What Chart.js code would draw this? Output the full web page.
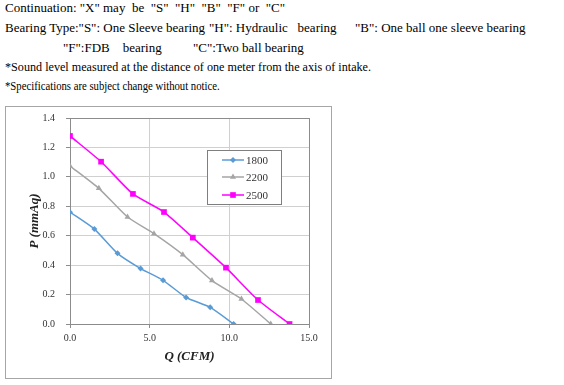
<!DOCTYPE html>
<html>
<head>
<meta charset="utf-8">
<script src="https://cdn.jsdelivr.net/npm/chart.js@4.4.1/dist/chart.umd.min.js"></script>
<style>
  body { margin: 0; background: #fff; width: 564px; height: 385px; position: relative; overflow: hidden; }
  .t { position: absolute; font-family: "Liberation Serif", serif; font-size: 13px; color: #000; white-space: pre; line-height: 16px; transform-origin: 0 0; }
  #box { position: absolute; left: 5px; top: 106px; width: 325px; height: 271px; border: 1px solid #a6a6a6; }
</style>
</head>
<body>
<div class="t" style="left:5px;top:0px">Continuation: "X" may  be  "S"  "H"  "B"  "F" or  "C"</div>
<div class="t" style="left:5px;top:20px">Bearing Type:"S": One Sleeve bearing</div>
<div class="t" style="left:209px;top:20px">"H": Hydraulic   bearing</div>
<div class="t" style="left:355px;top:20px">"B": One ball one sleeve bearing</div>
<div class="t" style="left:63px;top:40px">"F":FDB    bearing</div>
<div class="t" style="left:193px;top:40px">"C":Two ball bearing</div>
<div class="t" id="sound" style="left:5px;top:59px">*Sound level measured at the distance of one meter from the axis of intake.</div>
<div class="t" id="last" style="left:5px;top:78px">*Specifications are subject change without notice.</div>
<div id="box"><canvas id="fan_curve"></canvas></div>
<script>
// the two note lines are narrower in the scan
function squeeze(id, w){
  var el = document.getElementById(id);
  el.style.transform = "scaleX(" + (w / el.offsetWidth) + ")";
}
squeeze("sound", 366);
squeeze("last", 215);

var speeds = ["1800", "2200", "2500"];
var q1800 = [0, 1.53, 2.98, 4.43, 5.84, 7.29, 8.80, 10.27];
var p1800 = [0.76, 0.645, 0.48, 0.377, 0.297, 0.18, 0.113, 0];
var q2200 = [0, 1.81, 3.61, 5.27, 7.08, 8.91, 10.76, 12.6];
var p2200 = [1.074, 0.922, 0.727, 0.614, 0.471, 0.295, 0.17, 0];
var q2500 = [0, 1.95, 3.95, 5.9, 7.71, 9.79, 11.8, 13.78];
var p2500 = [1.278, 1.103, 0.884, 0.761, 0.587, 0.383, 0.163, 0];

function pairs(xs, ys){
  var out = [];
  for (var i = 0; i < xs.length; i++) out.push({x: xs[i], y: ys[i]});
  return out;
}

var styles = [
  {color: "#5b9bd5", point: "rectRot", radius: 3},
  {color: "#a5a5a5", point: "triangle", radius: 3.5},
  {color: "#ff00ff", point: "rect", radius: 4}
];
var series = [pairs(q1800, p1800), pairs(q2200, p2200), pairs(q2500, p2500)];

var datasets = [];
for (var i = 0; i < speeds.length; i++) {
  datasets.push({
    label: speeds[i],
    data: series[i],
    showLine: true,
    borderColor: styles[i].color,
    backgroundColor: styles[i].color,
    borderWidth: 1.5,
    pointStyle: styles[i].point,
    pointRadius: styles[i].radius,
    pointBorderWidth: 0,
    tension: 0.2
  });
}

var serif = "'Liberation Serif', serif";

// plot frame and the boxed legend
var framePlugin = {
  id: "frame",
  beforeDatasetsDraw: function(chart){
    var ctx = chart.ctx, a = chart.chartArea;
    ctx.save();
    ctx.strokeStyle = "#8c8c8c";
    ctx.lineWidth = 1;
    ctx.strokeRect(Math.round(a.left) + 0.5, Math.round(a.top) + 0.5, Math.round(a.right - a.left), Math.round(a.bottom - a.top));
    ctx.restore();
  },
  afterDatasetsDraw: function(chart){
    var ctx = chart.ctx, a = chart.chartArea;
    var lx = Math.round(a.left) + 137, ly = Math.round(a.top) + 32;
    ctx.save();
    ctx.fillStyle = "#fff";
    ctx.fillRect(lx, ly, 74, 54);
    ctx.strokeStyle = "#7f7f7f";
    ctx.lineWidth = 1;
    ctx.strokeRect(lx + 0.5, ly + 0.5, 74, 54);
    ctx.font = "11px " + serif;
    ctx.textBaseline = "middle";
    var rows = [10, 27, 45];
    chart.data.datasets.forEach(function(ds, i){
      var y = ly + rows[i];
      ctx.strokeStyle = ds.borderColor;
      ctx.lineWidth = 1.5;
      ctx.beginPath();
      ctx.moveTo(lx + 15, y);
      ctx.lineTo(lx + 37, y);
      ctx.stroke();
      ctx.fillStyle = ds.backgroundColor;
      Chart.helpers.drawPoint(ctx, {pointStyle: ds.pointStyle, radius: ds.pointRadius, rotation: 0, borderWidth: 0}, lx + 26, y);
      ctx.fillStyle = "#333";
      ctx.fillText(ds.label, lx + 39, y + 1);
    });
    ctx.restore();
  }
};

var chart = new Chart(document.getElementById("fan_curve"), {
  type: "scatter",
  data: { datasets: datasets },
  options: {
    responsive: true,
    maintainAspectRatio: false,
    animation: false,
    layout: { padding: { top: 11, right: 22, left: 17, bottom: 14 } },
    plugins: { legend: { display: false }, tooltip: { enabled: false } },
    scales: {
      x: {
        min: 0, max: 15,
        ticks: { stepSize: 5, color: "#333", font: { family: serif, size: 10 }, padding: 4,
          callback: function(v){ return v.toFixed(1); } },
        grid: { color: "#d0d0d0", tickColor: "#8c8c8c", tickLength: 4 },
        border: { display: false },
        title: { display: true, text: "Q (CFM)", color: "#222", padding: { top: 3, bottom: 0 },
          font: { family: serif, size: 13, weight: "bold", style: "italic" } },
        afterFit: function(s){ s.height = 40; }
      },
      y: {
        min: 0, max: 1.4,
        ticks: { stepSize: 0.2, color: "#333", font: { family: serif, size: 10 }, padding: 11,
          callback: function(v){ return v.toFixed(1); } },
        grid: { color: "#d0d0d0", tickColor: "#8c8c8c", tickLength: 4 },
        border: { display: false },
        title: { display: true, text: "P (mmAq)", color: "#222",
          font: { family: serif, size: 13, weight: "bold", style: "italic" } },
        afterFit: function(s){ s.width = 47; s.paddingTop = 0; s.paddingBottom = 0; }
      }
    }
  },
  plugins: [framePlugin]
});
</script>
</body>
</html>
